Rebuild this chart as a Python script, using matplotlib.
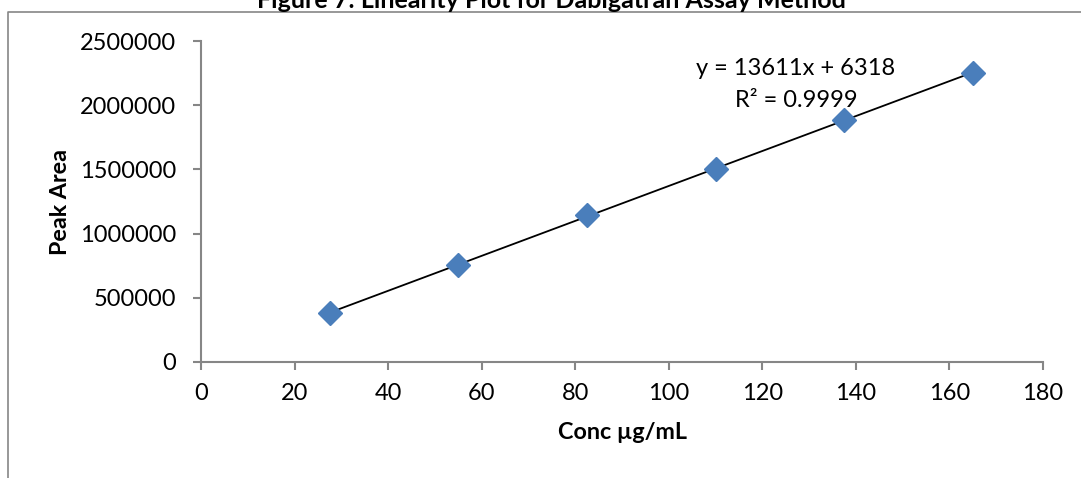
import numpy as np
import matplotlib
matplotlib.use("Agg")
import matplotlib.pyplot as plt
from matplotlib.lines import Line2D

# data
conc = [27.5, 55, 82.5, 110, 137.5, 165]
peak_area = [381000, 755000, 1145000, 1503000, 1885000, 2251000]
x_ticks = [0, 20, 40, 60, 80, 100, 120, 140, 160, 180]
y_ticks = [0, 500000, 1000000, 1500000, 2000000, 2500000]
eq_text = "y = 13611x + 6318"
r2_text = "R² = 0.9999"
title = "Figure 7: Linearity Plot for Dabigatran Assay Method"

plt.rcParams['font.family'] = ['Lato', 'DejaVu Sans']
grey = '#868686'

fig = plt.figure(figsize=(10.81, 4.78), dpi=100)
ax = fig.add_axes([201/1081, 1-362/478, (1043-201)/1081, (362-41)/478])

# trendline from a least squares fit of the points
k, b = np.polyfit(conc, peak_area, 1)
xs = np.array([conc[0], conc[-1]])
ax.plot(xs, k*xs + b, color='black', lw=1.3, zorder=2)
ax.plot(conc, peak_area, 'D', color='#4A7EBB', ms=12, mec='#4A7EBB', zorder=3)

ax.set_xlim(0, 180)
ax.set_ylim(0, 2500000)
ax.set_xticks(x_ticks)
ax.set_yticks(y_ticks)
ax.set_xticklabels([str(t) for t in x_ticks])
ax.set_yticklabels([str(t) for t in y_ticks])

for s in ['top', 'right']:
    ax.spines[s].set_visible(False)
for s in ['left', 'bottom']:
    ax.spines[s].set_color(grey)
    ax.spines[s].set_linewidth(1.5)
ax.tick_params(axis='both', direction='out', length=6, width=1.5, color=grey,
               labelsize=17, labelcolor='black')
ax.tick_params(axis='y', pad=12)
ax.tick_params(axis='x', pad=9)

ax.set_xlabel("Conc µg/mL", fontsize=16.8, fontweight='bold', labelpad=13)
ax.set_ylabel("Peak Area", fontsize=16.8, fontweight='bold', labelpad=6)

ax.text(127.2, 2235000, eq_text, ha='center', va='baseline', fontsize=17)
ax.text(127.2, 1986000, r2_text, ha='center', va='baseline', fontsize=17)

# chart area border (only left and top visible in the crop)
fig.add_artist(Line2D([8/1081, 8/1081, 1.0], [0.0, 1-12/478, 1-12/478],
                      transform=fig.transFigure, color=grey, lw=1.2))
fig.text(551/1081, 1-8/478, title, ha='center', va='baseline',
         fontsize=18, fontweight='bold')

fig.savefig('out.png', dpi=100)
